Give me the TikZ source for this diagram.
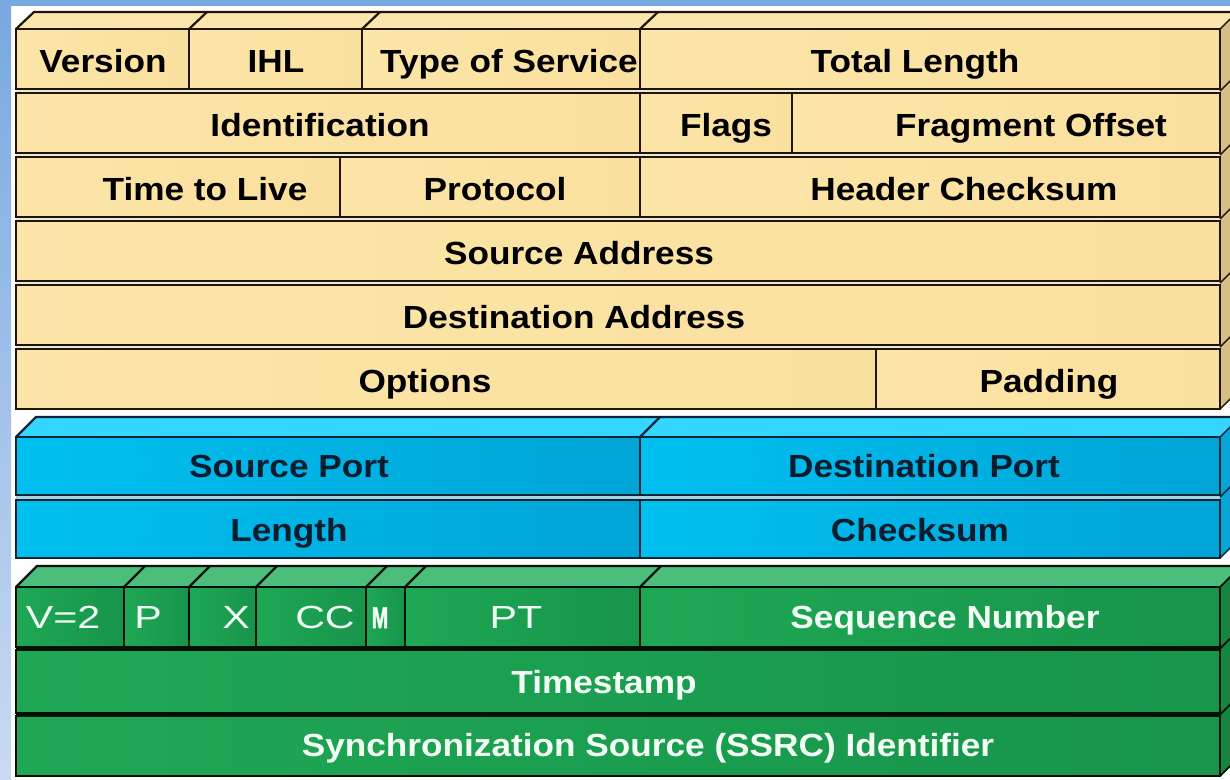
\documentclass[tikz,border=0pt]{standalone}
\usepackage{fontspec}
\setmainfont{Liberation Sans}[FakeStretch=1.1]
\newfontfamily\heavyfont{Liberation Sans}[FakeBold=2]
\definecolor{tanF}{HTML}{FCE5A8}
\definecolor{tanF2}{HTML}{FAE09E}
\definecolor{tanT}{HTML}{FCE6AE}
\definecolor{tanS}{HTML}{D6BE86}
\definecolor{tanL}{HTML}{1E1608}
\definecolor{tanG}{HTML}{F0E8D6}
\definecolor{bluF}{HTML}{00C0F0}
\definecolor{bluD}{HTML}{00A4D6}
\definecolor{bluT}{HTML}{35D6FF}
\definecolor{bluS}{HTML}{05A6D6}
\definecolor{bluL}{HTML}{0A2438}
\definecolor{bluX}{HTML}{0A1C2E}
\definecolor{bluG}{HTML}{A8D4E0}
\definecolor{grnF}{HTML}{1EA854}
\definecolor{grnD}{HTML}{18944B}
\definecolor{grnT}{HTML}{4CBE7C}
\definecolor{grnS}{HTML}{14863F}
\definecolor{grnL}{HTML}{061008}
\definecolor{grnX}{HTML}{F2FFF4}
\definecolor{bgA}{HTML}{78A8E0}
\definecolor{bgB}{HTML}{CADAF2}
\newcommand\widetxt[1]{\scalebox{1.17}[1]{#1}}
\begin{document}
\begin{tikzpicture}[x=1pt,y=-1pt,
  lbl/.style={inner sep=0pt,anchor=base,font=\fontsize{32}{36}\selectfont\bfseries},
  tanlbl/.style={lbl,text=black},
  blulbl/.style={lbl,text=bluX},
  grnlbl/.style={lbl,text=grnX},
  bitlbl/.style={grnlbl,font=\fontsize{32}{36}\selectfont},
  tancell/.style={draw=tanL,line width=2.8pt,left color=tanF,right color=tanF2},
  blucell/.style={draw=bluL,line width=2.4pt,left color=bluF,right color=bluD},
  grncell/.style={draw=grnL,line width=2.6pt,left color=grnF,right color=grnD},
  tanedge/.style={draw=tanL,line width=2.2pt},
  bluedge/.style={draw=bluL,line width=2.2pt},
  grnedge/.style={draw=grnL,line width=2.2pt}]
\path[use as bounding box] (0,0) rectangle (1230,779);
\clip (0,0) rectangle (1230,779);
\fill[white] (0,0) rectangle (1230,779);
\shade[top color=bgA,bottom color=bgB] (0,0) rectangle (11,779);
\fill[bgA] (0,0) rectangle (1230,6);

% ---------------- IP header (tan) ----------------
\fill[tanT] (16,29) -- (34,12) -- (1240,12) -- (1220,29) -- cycle;
\fill[tanS] (1220,29) -- (1240,12) -- (1240,392) -- (1220,409) -- cycle;
\fill[tanG] (16,29) rectangle (1220,409);
\draw[tanedge] (16,29) -- (34,12) -- (1240,12);
\foreach \x in {189,362,640} \draw[tanedge] (\x,29) -- (\x+18,12);
\foreach \y in {29,91,155,219,283,347,409} \draw[tanedge,line width=1.4pt] (1220,\y) -- (1240,\y-20);
% row 1
\draw[tancell] (16,29) rectangle (189,89);
\draw[tancell] (189,29) rectangle (362,89);
\draw[tancell] (362,29) rectangle (640,89);
\draw[tancell] (640,29) rectangle (1220,89);
% row 2
\draw[tancell] (16,93) rectangle (640,153);
\draw[tancell] (640,93) rectangle (792,153);
\draw[tancell] (792,93) rectangle (1220,153);
% row 3
\draw[tancell] (16,157) rectangle (340,217);
\draw[tancell] (340,157) rectangle (640,217);
\draw[tancell] (640,157) rectangle (1220,217);
% rows 4-6
\draw[tancell] (16,221) rectangle (1220,281);
\draw[tancell] (16,285) rectangle (1220,345);
\draw[tancell] (16,349) rectangle (876,409);
\draw[tancell] (876,349) rectangle (1220,409);

\node[tanlbl] (ver) at (103,72.5) {Version};
\node[tanlbl] (ihl) at (276,72.5) {IHL};
\begin{scope}
\clip (362,29) rectangle (638.6,89);
\node[tanlbl,anchor=base west] (tos) at (380,72.5) {Type of Service};
\end{scope}
\node[tanlbl] (tlen) at (915,72.5) {Total Length};
\node[tanlbl] (ident) at (320,136.5) {Identification};
\node[tanlbl] (flags) at (726,136.5) {Flags};
\node[tanlbl] (frag) at (1031,136.5) {Fragment Offset};
\node[tanlbl] (ttl) at (205,200.5) {Time to Live};
\node[tanlbl] (proto) at (495,200.5) {Protocol};
\node[tanlbl] (hcs) at (964,200.5) {Header Checksum};
\node[tanlbl] (src) at (579,264.5) {Source Address};
\node[tanlbl] (dst) at (574,328.5) {Destination Address};
\node[tanlbl] (opt) at (425,392.5) {Options};
\node[tanlbl] (pad) at (1049,392.5) {Padding};

% ---------------- UDP header (blue) ----------------
\fill[bluT] (16,437) -- (36,417) -- (1240,417) -- (1220,437) -- cycle;
\fill[bluS] (1220,437) -- (1240,417) -- (1240,538) -- (1220,558) -- cycle;
\fill[bluG] (16,437) rectangle (1220,558);
\draw[bluedge] (16,437) -- (36,417) -- (1240,417);
\draw[bluedge] (640,437) -- (660,417);
\foreach \y in {437,497,558} \draw[bluedge,line width=1.4pt] (1220,\y) -- (1240,\y-20);
\draw[blucell] (16,437) rectangle (640,495);
\draw[blucell] (640,437) rectangle (1220,495);
\draw[blucell] (16,500) rectangle (640,558);
\draw[blucell] (640,500) rectangle (1220,558);
\node[blulbl] (sport) at (289,477.5) {Source Port};
\node[blulbl] (dport) at (924,477.5) {Destination Port};
\node[blulbl] (ulen) at (289,541) {Length};
\node[blulbl] (ucs) at (920,541) {Checksum};

% ---------------- RTP header (green) ----------------
\fill[grnT] (16,587) -- (37,566) -- (1240,566) -- (1220,587) -- cycle;
\fill[grnS] (1220,587) -- (1241,566) -- (1241,755) -- (1220,776) -- cycle;
\fill[grnL] (16,587) rectangle (1220,776);
\draw[grnedge] (16,587) -- (37,566) -- (1240,566);
\foreach \x in {124,189,256,366,405,640} \draw[grnedge] (\x,587) -- (\x+21,566);
\foreach \y in {587,648.5,714.5,776} \draw[grnedge,line width=1.8pt] (1220,\y) -- (1241,\y-21);
\draw[grncell] (16,587) rectangle (124,647);
\draw[grncell] (124,587) rectangle (189,647);
\draw[grncell] (189,587) rectangle (256,647);
\draw[grncell] (256,587) rectangle (366,647);
\draw[grncell] (366,587) rectangle (405,647);
\draw[grncell] (405,587) rectangle (640,647);
\draw[grncell] (640,587) rectangle (1220,647);
\draw[grncell] (16,650) rectangle (1220,713);
\draw[grncell] (16,716) rectangle (1220,776);
\node[bitlbl] (ver2) at (63,628) {\widetxt{V=2}};
\node[bitlbl] (pbit) at (148,628) {\widetxt{P}};
\node[bitlbl] (xbit) at (236,628) {\widetxt{X}};
\node[bitlbl] (cc) at (325,628) {\widetxt{CC}};
\node[grnlbl,font=\fontsize{30}{30}\heavyfont\bfseries,xscale=0.66,transform shape] (mbit) at (380,628) {M};
\node[bitlbl] (pt) at (516,628) {\widetxt{PT}};
\node[grnlbl] (seq) at (945,628) {Sequence Number};
\node[grnlbl] (ts) at (604,693.5) {Timestamp};
\node[grnlbl] (ssrc) at (648,756.5) {Synchronization Source (SSRC) Identifier};
\end{tikzpicture}
\end{document}
